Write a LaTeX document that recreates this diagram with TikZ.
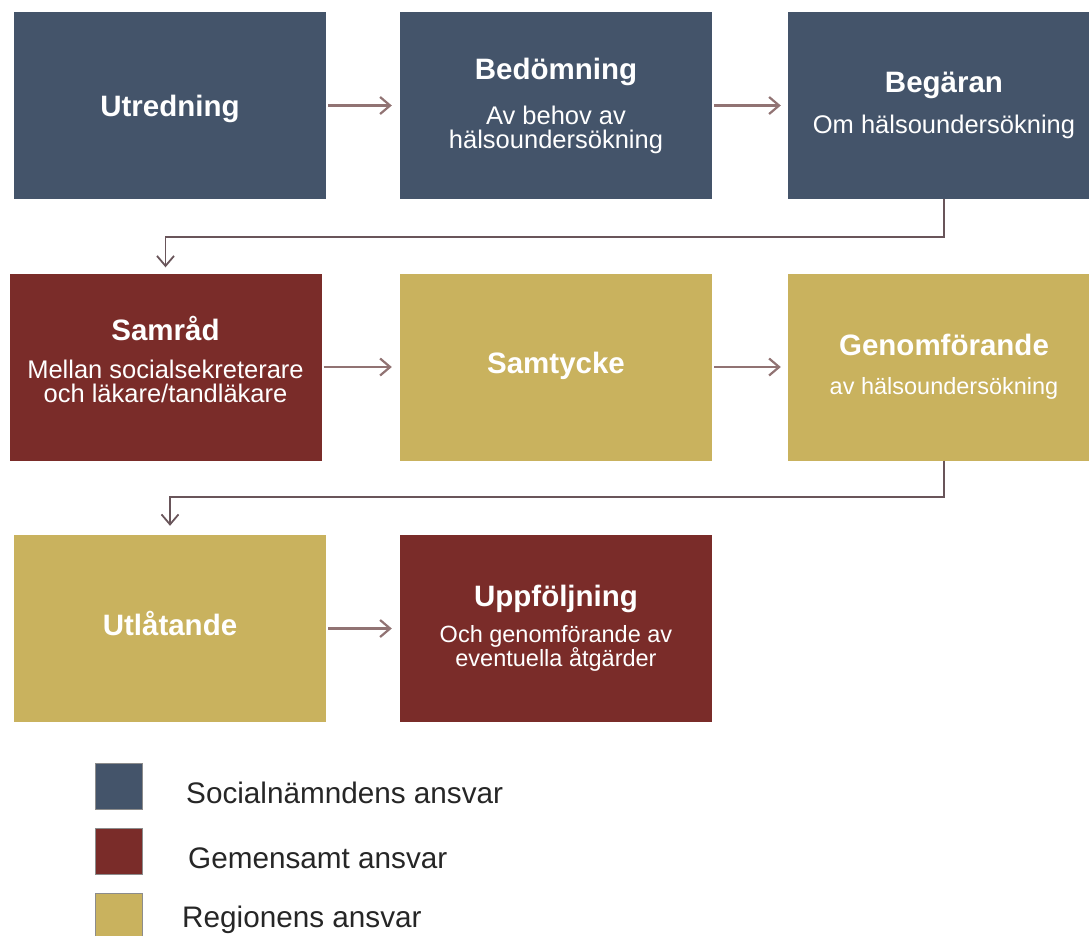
\documentclass[tikz,border=0pt]{standalone}
\usepackage{fontspec}
\setmainfont{Liberation Sans}
\usetikzlibrary{arrows.meta}
\definecolor{socblue}{RGB}{68,84,106}
\definecolor{gemred}{RGB}{122,44,41}
\definecolor{reggold}{RGB}{201,178,94}
\definecolor{arrowc}{RGB}{145,115,115}
\definecolor{connc}{RGB}{105,85,90}
\definecolor{legtext}{RGB}{38,38,38}
\newcommand{\ttl}[1]{{\fontsize{29.5}{30}\selectfont\bfseries #1}}

\begin{document}
\begin{tikzpicture}[x=1pt,y=-1pt]
	\tikzstyle{every node}+=[inner sep=0pt]
	\tikzstyle{stage}=[minimum width=312pt, minimum height=187pt, text=white, align=center, font={\fontsize{25.5}{24}\selectfont\lineskiplimit=-100pt}]
	\tikzstyle{single}=[text height=21pt, text depth=8pt]
	\tikzstyle{flow}=[draw=arrowc, line width=2.2pt, -{Straight Barb[length=10pt,width=17pt]}, shorten <=2pt, shorten >=8pt]
	\tikzstyle{turn}=[draw=connc, line width=1.8pt, -{Straight Barb[length=10pt,width=17pt]}]
	\tikzstyle{legbox}=[minimum width=47pt, minimum height=46pt, draw=black!45, line width=0.8pt]
	\tikzstyle{legend}=[anchor=base west, text=legtext, font=\fontsize{29.7}{30}\selectfont]
	\useasboundingbox (0,0) rectangle (1089,935);
	\node [stage, single, text depth=-2pt, fill=socblue] (utredning) at (170,105.5) {\ttl{Utredning}};
	\node [stage, fill=socblue] (bedomning) at (556,105.5) {\ttl{Bedömning}\\[21pt]Av behov av\\hälsoundersökning};
	\node [stage, fill=socblue] (begaran) at (944,105.5) {\ttl{Begäran}\\[17pt]Om hälsoundersökning};
	\node [stage, fill=gemred] (samrad) at (165.5,367) {\ttl{Samråd}\\[14pt]Mellan socialsekreterare\\och läkare/tandläkare\\[-8pt]};
	\node [stage, single, fill=reggold] (samtycke) at (556,367) {\ttl{Samtycke}};
	\node [stage, fill=reggold, font={\fontsize{23.5}{21}\selectfont\lineskiplimit=-100pt}] (genomforande) at (944,367) {\ttl{Genomförande}\\[18pt]av hälsoundersökning};
	\node [stage, single, fill=reggold] (utlatande) at (170,628.5) {\ttl{Utlåtande}};
	\node [stage, fill=gemred, font={\fontsize{23.5}{24}\selectfont\lineskiplimit=-100pt}] (uppfoljning) at (556,628.5) {\ttl{Uppföljning}\\[12pt]Och genomförande av\\eventuella åtgärder};
	\draw [flow] (utredning) -- (bedomning);
	\draw [flow, shorten >=7pt] (bedomning) -- (begaran);
	\draw [turn, shorten >=6pt] (begaran.south) -- ++(0,38) -| (samrad.north);
	\draw [flow] (samrad) -- (samtycke);
	\draw [flow, shorten >=7pt] (samtycke) -- (genomforande);
	\draw [turn, shorten >=9pt] (genomforande.south) -- ++(0,36) -| (utlatande.north);
	\draw [flow] (utlatande) -- (uppfoljning);
	\node [legbox, fill=socblue] (legsoc) at (119,786) {};
	\node [legend] (legsoctext) at (186,803) {Socialnämndens ansvar};
	\node [legbox, fill=gemred] (leggem) at (119,851) {};
	\node [legend] (leggemtext) at (188,868) {Gemensamt ansvar};
	\node [legbox, fill=reggold] (legreg) at (119,916) {};
	\node [legend] (legregtext) at (182,927) {Regionens ansvar};
\end{tikzpicture}
\end{document}
